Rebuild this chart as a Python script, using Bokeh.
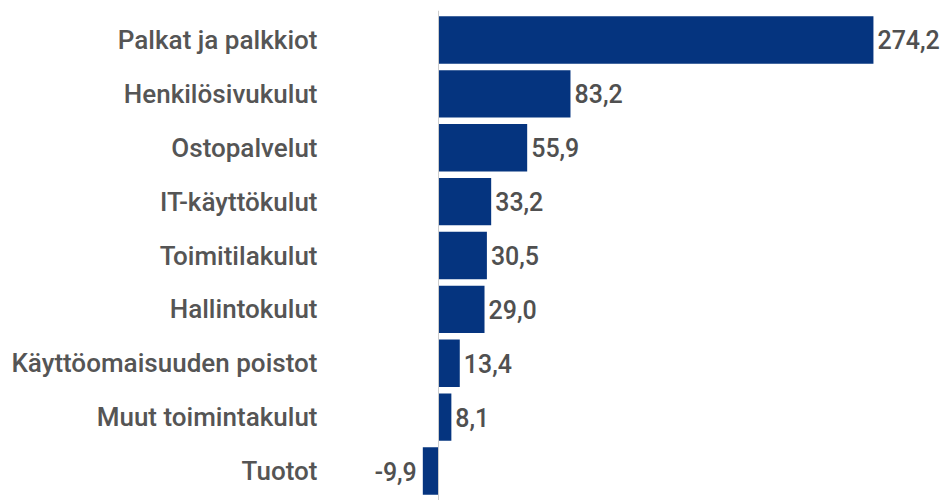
from bokeh.plotting import figure
from bokeh.models import ColumnDataSource, Range1d, FixedTicker, Span
from bokeh.core.properties import value
from bokeh.embed import file_html
from bokeh.resources import INLINE

categories = ["Palkat ja palkkiot", "Henkilösivukulut", "Ostopalvelut", "IT-käyttökulut",
              "Toimitilakulut", "Hallintokulut", "Käyttöomaisuuden poistot",
              "Muut toimintakulut", "Tuotot"]
values = [274.2, 83.2, 55.9, 33.2, 30.5, 29.0, 13.4, 8.1, -9.9]

FONT = "Roboto Medium"
BAR = "#05347f"

pos = list(range(len(categories)))
src = ColumnDataSource(dict(
    y=pos,
    v=values,
    lbl=[f"{v:.1f}".replace(".", ",") for v in values],
    align=["left" if v >= 0 else "right" for v in values],
    xoff=[4 if v >= 0 else -6 for v in values],
))

p = figure(width=944, height=500, output_backend="svg", toolbar_location=None,
           x_range=Range1d(-68.1, 319.0), y_range=Range1d(8.547, -0.547),
           min_border_left=330, min_border_right=0, min_border_top=10, min_border_bottom=0)
p.xaxis.visible = False
p.grid.visible = False
p.outline_line_color = None

p.hbar(y="y", left=0, right="v", height=0.88, source=src, fill_color=BAR, line_color=None)
p.add_layout(Span(location=0, dimension="height", line_color="#cccccc", line_width=1))

p.text(x="v", y="y", text="lbl", source=src, text_align="align", x_offset="xoff",
       text_baseline="middle", text_font=value(FONT), text_font_size="25px",
       text_color="#505050")

ya = p.yaxis[0]
ya.ticker = FixedTicker(ticks=pos)
ya.major_label_overrides = {i: c for i, c in zip(pos, categories)}
ya.axis_line_color = None
ya.major_tick_line_color = None
ya.minor_tick_line_color = None
ya.major_label_text_font = FONT
ya.major_label_text_font_size = "26px"
ya.major_label_text_color = "#555555"
ya.major_label_standoff = 7

open("out.html", "w").write(file_html(p, INLINE))
